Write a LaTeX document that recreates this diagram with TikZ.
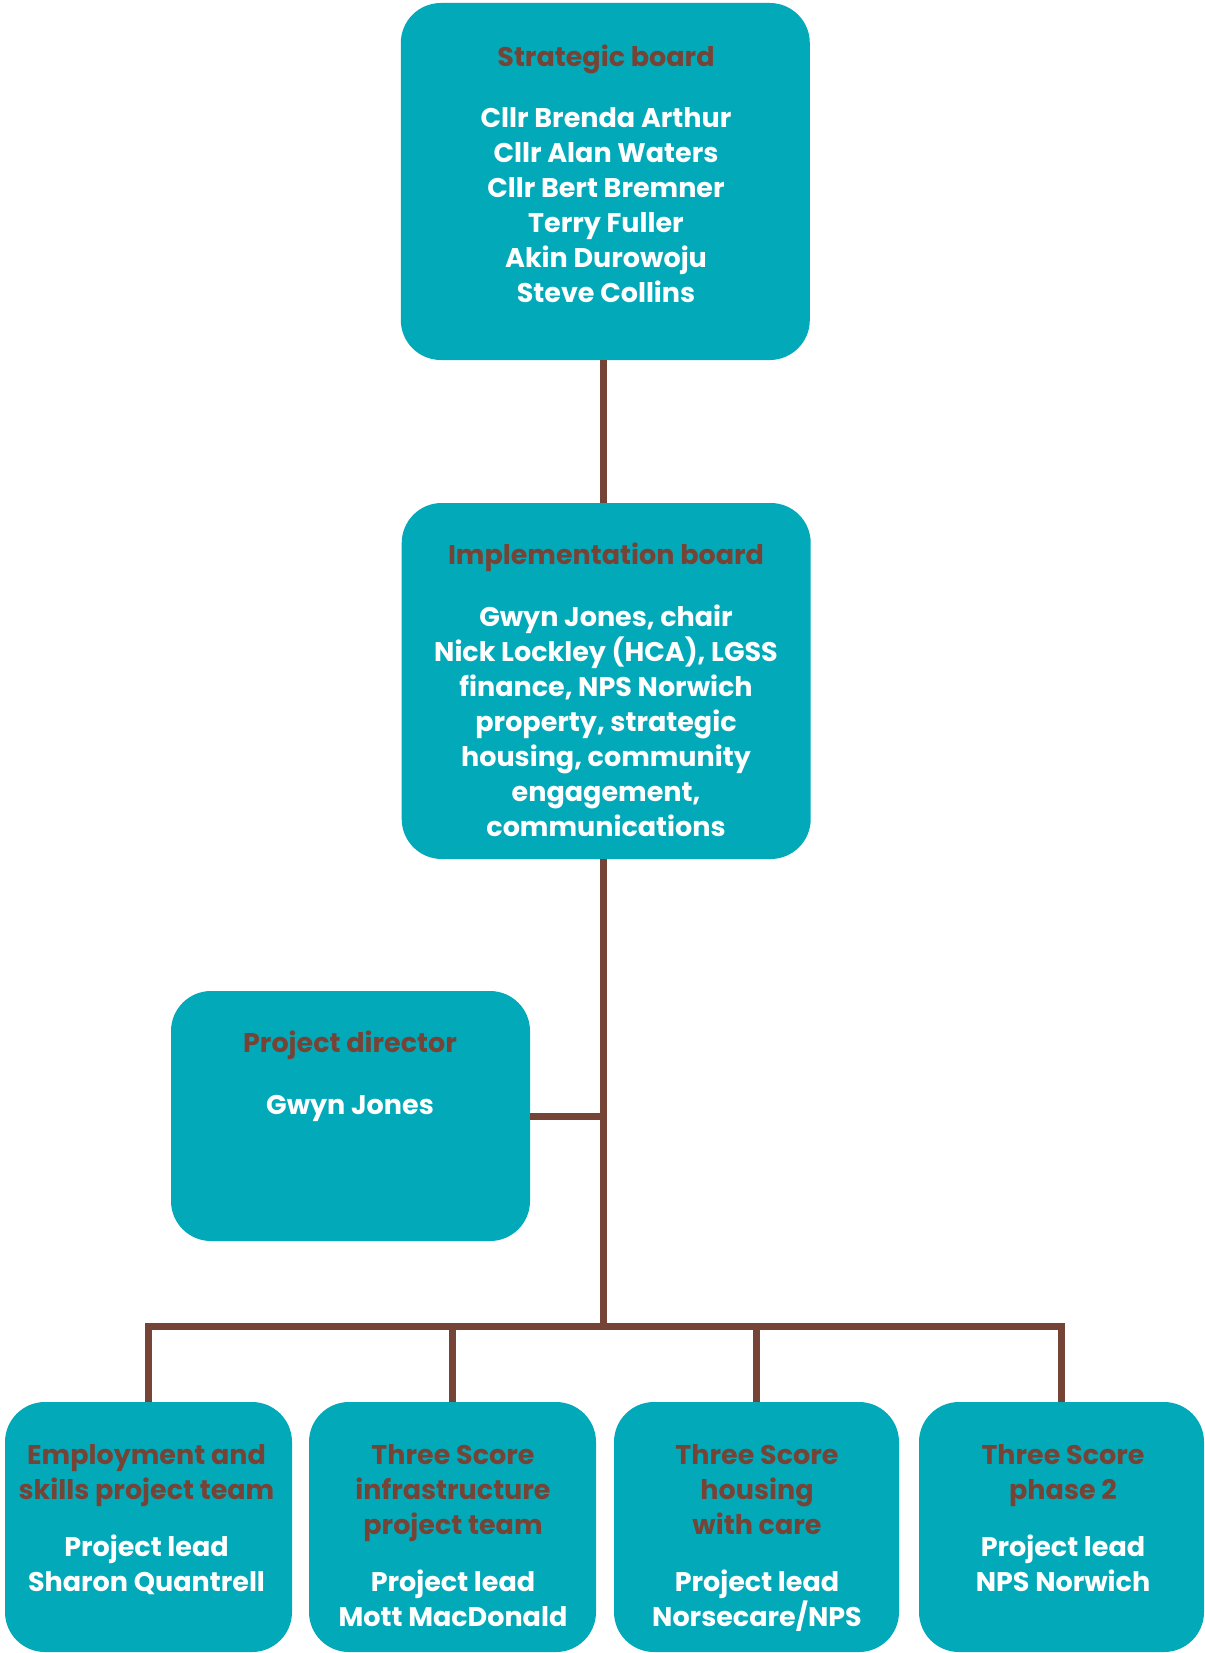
\documentclass[tikz,border=0pt]{standalone}
\usepackage{fontspec}
\setmainfont{Poppins}
\definecolor{tealbox}{HTML}{02AAB9}
\definecolor{brownline}{HTML}{764436}
\begin{document}
\begin{tikzpicture}[x=1pt,y=-1pt,
  box/.style={fill=tealbox, rounded corners=40pt, draw=none, inner sep=0pt, outer sep=0pt},
  txt/.style={font=\bfseries\fontsize{27}{35}\selectfont, align=center, inner sep=0pt,
    execute at begin node=\strut, execute at end node=\strut},
  ttl/.style={txt, text=brownline},
  bod/.style={txt, text=white},
  conn/.style={draw=brownline, line width=7pt}]
\useasboundingbox (0,0) rectangle (1204,1653);
% boxes
\node[box, minimum width=409pt, minimum height=357pt] (sb) at (605.3,181.5) {};
\node[box, minimum width=409pt, minimum height=356pt] (ib) at (606.2,681) {};
\node[box, minimum width=359pt, minimum height=250pt] (pd) at (350.5,1116) {};
\node[box, minimum width=287pt, minimum height=250pt] (b1) at (148.5,1527) {};
\node[box, minimum width=287pt, minimum height=250pt] (b2) at (452.5,1527) {};
\node[box, minimum width=285pt, minimum height=250pt] (b3) at (756.5,1527) {};
\node[box, minimum width=285pt, minimum height=250pt] (b4) at (1061.5,1527) {};
% connectors
\coordinate (bus) at (603,1326);
\draw[conn] (bus |- sb.south) -- (bus |- ib.north);
\draw[conn] (bus |- ib.south) -- (bus);
\draw[conn] (pd.east) -- (pd.east -| bus);
\draw[conn] (b1.north) -- (b1.north |- bus) -- (b4.north |- bus) -- (b4.north);
\draw[conn] (b2.north) -- (b2.north |- bus);
\draw[conn] (b3.north) -- (b3.north |- bus);
% texts
\node[ttl] (sbt) at (606,60) {Strategic board};
\node[bod] (sbb) at (606,210) {Cllr Brenda Arthur\\Cllr Alan Waters\\Cllr Bert Bremner\\Terry Fuller\\Akin Durowoju\\Steve Collins};
\node[ttl] (ibt) at (606,557) {Implementation board};
\node[bod] (ibb) at (606,726) {Gwyn Jones, chair\\Nick Lockley (HCA), LGSS\\finance, NPS Norwich\\property, strategic\\housing, community\\engagement,\\communications};
\node[ttl] (pdt) at (350,1045) {Project director};
\node[bod] (pdb) at (350,1107) {Gwyn Jones};
\node[ttl] (b1t) at (146.5,1477.5) {Employment and\\skills project team};
\node[bod] (b1b) at (146.5,1568) {Project lead\\Sharon Quantrell};
\node[ttl] (b2t) at (453,1495) {Three Score\\infrastructure\\project team};
\node[bod] (b2b) at (453,1603.5) {Project lead\\Mott MacDonald};
\node[ttl] (b3t) at (757,1495) {Three Score\\housing\\with care};
\node[bod] (b3b) at (757,1603.5) {Project lead\\Norsecare/NPS};
\node[ttl] (b4t) at (1063,1477.5) {Three Score\\phase 2};
\node[bod] (b4b) at (1063,1568) {Project lead\\NPS Norwich};
\end{tikzpicture}
\end{document}
